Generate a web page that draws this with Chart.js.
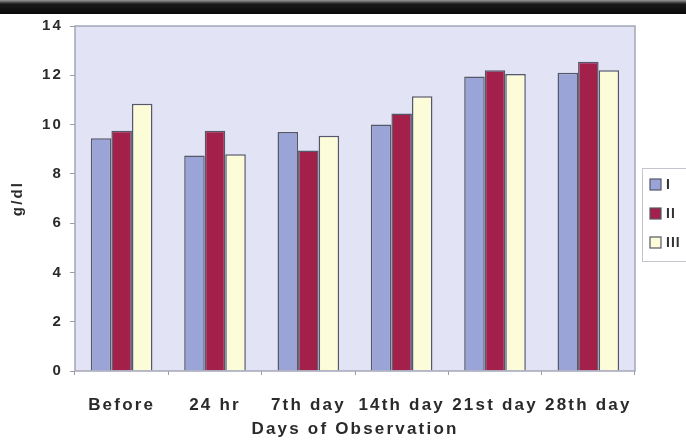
<!DOCTYPE html>
<html>
<head>
<meta charset="utf-8">
<script src="https://cdn.jsdelivr.net/npm/chart.js@4.4.1/dist/chart.umd.min.js"></script>
<style>
  html, body { margin: 0; padding: 0; background: #fff; }
  #wrap { position: relative; width: 686px; height: 446px; }
  #topband { position: absolute; left: 0; top: 0; width: 686px; height: 14px;
    background: linear-gradient(#9a9a9a 0px, #1a1a1a 4px, #0a0a0a 14px); }
  canvas { position: absolute; left: 0; top: 0; }
</style>
</head>
<body>
<div id="wrap">
  <canvas id="c" width="686" height="446"></canvas>
  <div id="topband"></div>
</div>
<script>
// Haemoglobin (g/dl) across observation days for groups I, II, III
const categories = ['Before', '24 hr', '7th day', '14th day', '21st day', '28th day'];
const groupI   = [9.45, 8.75, 9.7, 10.0, 11.95, 12.1];
const groupII  = [9.75, 9.75, 8.95, 10.45, 12.2, 12.55];
const groupIII = [10.85, 8.8, 9.55, 11.15, 12.05, 12.2];
const seriesNames = ['I', 'II', 'III'];
const yTicks = [0, 2, 4, 6, 8, 10, 12, 14];

const FONT = 'Liberation Sans, Arial, sans-serif';
const fills = ['#9aa4d6', '#a3204a', '#fcfcd8'];
const edge = '#55586a';

// wide-set lettering used for the axis text
const spacing = {
  id: 'spacing',
  beforeDraw(chart) { chart.ctx.letterSpacing = '2.2px'; }
};

// plot background and frame
const plotFrame = {
  id: 'plotFrame',
  beforeDatasetsDraw(chart) {
    const { ctx, chartArea: a } = chart;
    ctx.save();
    ctx.fillStyle = '#e2e3f4';
    ctx.fillRect(a.left, a.top, a.right - a.left, a.bottom - a.top);
    ctx.restore();
  },
  afterDraw(chart) {
    const { ctx, chartArea: a } = chart;
    ctx.save();
    ctx.strokeStyle = '#a4a6b8';
    ctx.lineWidth = 1.5;
    ctx.strokeRect(a.left, a.top, a.right - a.left, a.bottom - a.top);
    ctx.restore();
  }
};

// boxed legend on the right
const sideLegend = {
  id: 'sideLegend',
  afterDraw(chart) {
    const { ctx } = chart;
    const x0 = 642, y0 = 168, w = 60, h = 93;
    ctx.save();
    ctx.letterSpacing = '1px';
    ctx.fillStyle = '#ffffff';
    ctx.fillRect(x0, y0, w, h);
    ctx.strokeStyle = '#c4c4cc';
    ctx.lineWidth = 1;
    ctx.strokeRect(x0 + 0.5, y0 + 0.5, w, h);
    ctx.font = 'bold 14px ' + FONT;
    ctx.textBaseline = 'middle';
    chart.data.datasets.forEach((ds, i) => {
      const cy = 184 + i * 29;
      ctx.fillStyle = ds.backgroundColor;
      ctx.fillRect(650, cy - 5, 11, 11);
      ctx.strokeStyle = edge;
      ctx.lineWidth = 1.2;
      ctx.strokeRect(650, cy - 5, 11, 11);
      ctx.fillStyle = '#333';
      ctx.fillText(ds.label, 666, cy + 1);
    });
    ctx.restore();
  }
};

new Chart(document.getElementById('c'), {
  type: 'bar',
  data: {
    labels: categories,
    datasets: [groupI, groupII, groupIII].map((vals, i) => ({
      label: seriesNames[i],
      data: vals,
      backgroundColor: fills[i],
      borderColor: edge,
      borderWidth: 1.5,
      categoryPercentage: 0.66,
      barPercentage: 1.0
    }))
  },
  options: {
    responsive: false,
    animation: false,
    layout: { padding: { top: 26, right: 51, left: 0, bottom: 0 } },
    plugins: { legend: { display: false }, tooltip: { enabled: false } },
    scales: {
      x: {
        grid: { drawOnChartArea: false, tickLength: 4, color: '#9a9aaa', offset: true },
        border: { display: false },
        ticks: { color: '#2a2a2a', font: { family: FONT, size: 17, weight: 'bold' }, padding: 20 },
        title: { display: true, text: 'Days of Observation', color: '#2a2a2a',
                 font: { family: FONT, size: 17, weight: 'bold' }, padding: { top: 4, bottom: 6 } },
        afterFit(s) { s.height = 75; }
      },
      y: {
        min: 0, max: 14,
        afterBuildTicks(s) { s.ticks = yTicks.map(v => ({ value: v })); },
        grid: { drawOnChartArea: false, tickLength: 5, color: '#9a9aaa' },
        border: { display: false },
        ticks: { color: '#2a2a2a', font: { family: FONT, size: 15, weight: 'bold' }, padding: 7 },
        title: { display: true, text: 'g/dl', color: '#2a2a2a',
                 font: { family: FONT, size: 15, weight: 'bold' }, padding: { top: 9, bottom: 0 } },
        afterFit(s) { s.width = 75; }
      }
    }
  },
  plugins: [spacing, plotFrame, sideLegend]
});
</script>
</body>
</html>
